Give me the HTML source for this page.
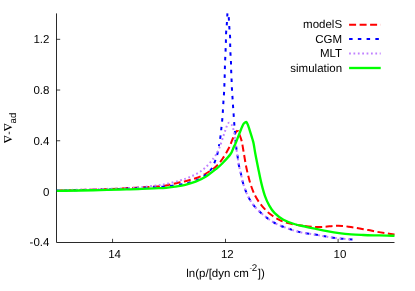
<!DOCTYPE html>
<html><head><meta charset="utf-8"><title>plot</title>
<style>
html,body{margin:0;padding:0;background:#fff;}
body{width:415px;height:291px;overflow:hidden;position:relative;font-family:"Liberation Sans",sans-serif;}
</style></head><body>
<svg width="415" height="291" viewBox="0 0 415 291" style="position:absolute;left:0;top:0;will-change:transform">
<rect width="415" height="291" fill="#fff"/>
<path d="M56.5,13.4 V242.5 H394.5" fill="none" stroke="#2a2a2a" stroke-width="1"/>
<path d="M56.5,39.32 h3.7 M56.5,90.04 h3.7 M56.5,140.76 h3.7 M56.5,191.48 h3.7 M112.55,242.5 v-3.7 M225.50,242.5 v-3.7 M338.10,242.5 v-3.7 " fill="none" stroke="#000" stroke-width="1" stroke-opacity="0.75"/>
<g font-family="Liberation Sans, sans-serif" font-size="11.5px" fill="#000" text-rendering="geometricPrecision">
<text x="49.4" y="43.4" text-anchor="end">1.2</text>
<text x="49.4" y="94.1" text-anchor="end">0.8</text>
<text x="49.4" y="144.9" text-anchor="end">0.4</text>
<text x="49.4" y="195.6" text-anchor="end">0</text>
<text x="49.4" y="246.3" text-anchor="end">-0.4</text>
<text x="114.6" y="258" text-anchor="middle">14</text>
<text x="227.3" y="258" text-anchor="middle">12</text>
<text x="340.0" y="258" text-anchor="middle">10</text>
<text x="342.1" y="28" text-anchor="end">modelS</text>
<text x="342.1" y="43" text-anchor="end">CGM</text>
<text x="342.1" y="57" text-anchor="end">MLT</text>
<text x="342.1" y="72" text-anchor="end">simulation</text>
<text x="186.3" y="276.7">ln(p/[dyn cm</text>
<text x="249.5" y="270.7" font-size="9.8px" fill-opacity="0.55" textLength="2.6" lengthAdjust="spacingAndGlyphs">-</text>
<text x="251.7" y="270.7" font-size="9.8px">2</text>
<text x="257.7" y="276.7">]</text>
<text x="261.0" y="276.7">)</text>
<g transform="translate(11.5,143) rotate(-90)"><path d="M0.1,-7.4 H7.5 L3.8,0.8 Z M1.75,-6.82 H6.62 L4.2,-1.45 Z" fill="#000" fill-rule="evenodd"/><text x="8.2" y="0" font-size="10.5px">-</text><path transform="translate(12.0,0)" d="M0.1,-7.4 H7.5 L3.8,0.8 Z M1.75,-6.82 H6.62 L4.2,-1.45 Z" fill="#000" fill-rule="evenodd"/><text x="19.6" y="4.9" font-size="9.5px">ad</text></g>
</g>
<clipPath id="c"><rect x="56.5" y="12.9" width="339.0" height="230.1"/></clipPath>
<g fill="none" stroke-width="2" clip-path="url(#c)" stroke-linejoin="round">
<path d="M56.50,190.50 C71.00,190.13 87.75,189.82 100.00,189.40 C112.25,188.98 120.98,188.47 130.00,188.00 C139.02,187.53 148.08,187.03 154.10,186.60 C160.12,186.17 162.62,185.92 166.10,185.40 C169.58,184.88 172.65,184.02 175.00,183.50 C177.35,182.98 178.48,182.68 180.20,182.30 C181.92,181.92 183.58,181.62 185.30,181.20 C187.02,180.78 188.78,180.28 190.50,179.80 C192.22,179.32 193.88,178.90 195.60,178.30 C197.32,177.70 199.07,177.00 200.80,176.20 C202.53,175.40 204.28,174.48 206.00,173.50 C207.72,172.52 209.38,171.52 211.10,170.30 C212.82,169.08 214.45,168.03 216.30,166.20 C218.15,164.37 220.10,162.33 222.20,159.30 C224.30,156.27 227.27,151.13 228.90,148.00 C230.53,144.87 230.92,143.00 232.00,140.50 C233.08,138.00 234.47,134.70 235.40,133.00 C236.33,131.30 236.87,131.20 237.60,130.30" stroke="#ff0000" stroke-dasharray="7,3.5" stroke-dashoffset="-2"/>
<path d="M237.60,130.30 C238.40,132.20 239.28,134.05 240.00,136.00 C240.72,137.95 241.27,139.17 241.90,142.00 C242.53,144.83 243.03,148.63 243.80,153.00 C244.57,157.37 245.42,163.13 246.50,168.20 C247.58,173.27 248.85,178.80 250.30,183.40 C251.75,188.00 253.30,192.10 255.20,195.80 C257.10,199.50 259.17,202.52 261.70,205.60 C264.23,208.68 267.15,211.77 270.40,214.30 C273.65,216.83 277.60,219.18 281.20,220.80 C284.80,222.42 288.38,223.17 292.00,224.00 C295.62,224.83 299.07,225.30 302.90,225.80" stroke="#ff0000" stroke-dasharray="7,3.5" stroke-dashoffset="5.7"/>
<path d="M394.50,234.40 C391.57,234.00 388.62,233.63 385.70,233.20 C382.78,232.77 379.88,232.32 377.00,231.80 C374.12,231.28 371.28,230.65 368.40,230.10 C365.52,229.55 362.60,229.00 359.70,228.50 C356.80,228.00 353.90,227.53 351.00,227.10 C348.10,226.67 345.18,226.10 342.30,225.90 C339.42,225.70 336.58,225.75 333.70,225.90 C330.82,226.05 328.12,226.62 325.00,226.80 C321.88,226.98 318.68,227.17 315.00,227.00 C311.32,226.83 306.73,226.30 302.90,225.80" stroke="#ff0000" stroke-dasharray="7,3.5" stroke-dashoffset="0.3"/>
<path d="M56.50,190.60 C71.00,190.30 87.75,190.05 100.00,189.70 C112.25,189.35 120.98,188.92 130.00,188.50 C139.02,188.08 148.08,187.57 154.10,187.20 C160.12,186.83 161.78,186.73 166.10,186.30 C170.42,185.87 176.28,185.17 180.00,184.60 C183.72,184.03 185.58,183.65 188.40,182.90 C191.22,182.15 194.08,181.35 196.90,180.10 C199.72,178.85 203.05,177.03 205.30,175.40 C207.55,173.77 209.00,172.13 210.40,170.30 C211.80,168.47 212.58,166.93 213.70,164.40 C214.82,161.87 216.20,158.33 217.10,155.10 C218.00,151.87 218.53,148.15 219.10,145.00" stroke="#0000ff" stroke-dasharray="3.5,5.25"/>
<path d="M227.45,13.40 C227.40,14.10 227.41,13.68 227.30,15.50 C227.19,17.32 227.00,21.37 226.80,24.30 C226.60,27.23 226.25,30.27 226.10,33.10 C225.95,35.93 225.98,38.47 225.90,41.30 C225.82,44.13 225.72,47.17 225.60,50.10 C225.48,53.03 225.32,56.02 225.20,58.90 C225.08,61.78 224.98,64.57 224.90,67.40 C224.82,70.23 224.78,73.02 224.70,75.90 C224.62,78.78 224.52,81.77 224.40,84.70 C224.28,87.63 224.17,90.60 224.00,93.50 C223.83,96.40 223.58,99.23 223.40,102.10 C223.22,104.97 223.08,107.86 222.90,110.70 C222.72,113.54 222.55,116.28 222.30,119.15 C222.05,122.03 221.70,125.11 221.40,127.95 C221.10,130.79 220.88,133.36 220.50,136.20 C220.12,139.04 219.67,141.85 219.10,145.00" stroke="#0000ff" stroke-dasharray="3.5,5.25" stroke-dashoffset="0.2"/>
<path d="M228.40,13.40 C228.57,15.45 228.73,17.06 228.90,19.55 C229.07,22.04 229.20,25.43 229.40,28.35 C229.60,31.28 229.97,34.21 230.10,37.10 C230.23,39.99 230.13,42.86 230.20,45.70 C230.27,48.54 230.37,51.27 230.50,54.15 C230.63,57.02 230.88,60.06 231.00,62.95 C231.12,65.84 231.10,68.61 231.20,71.50 C231.30,74.39 231.47,77.37 231.60,80.30 C231.72,83.23 231.80,86.23 231.95,89.10 C232.10,91.97 232.32,94.63 232.50,97.50 C232.68,100.37 232.86,103.42 233.05,106.30 C233.24,109.17 233.45,111.88 233.65,114.75 C233.85,117.62 234.03,120.62 234.25,123.55 C234.47,126.48 234.79,129.51 235.00,132.35 C235.21,135.19 235.35,138.49 235.50,140.60 C235.65,142.71 235.53,142.24 235.90,145.00" stroke="#0000ff" stroke-dasharray="3.5,5.25" stroke-dashoffset="4.85"/>
<path d="M235.90,145.00 C236.27,147.76 237.18,153.66 237.70,157.15 C238.22,160.64 238.45,163.14 239.00,165.95 C239.55,168.76 240.35,171.22 241.00,174.00 C241.65,176.78 242.10,179.73 242.90,182.60 C243.70,185.47 244.73,188.52 245.80,191.20 C246.87,193.88 247.89,196.22 249.30,198.70 C250.71,201.17 251.82,203.27 254.25,206.05 C256.68,208.83 260.49,212.58 263.90,215.40 C267.31,218.22 270.73,220.83 274.70,223.00 C278.67,225.17 283.37,226.85 287.70,228.40 C292.03,229.95 296.15,231.27 300.70,232.30 C305.25,233.33 310.62,233.87 315.00,234.60 C319.38,235.33 322.98,236.07 327.00,236.70 C331.02,237.33 334.77,237.93 339.10,238.40 C343.43,238.87 348.37,239.13 353.00,239.50" stroke="#0000ff" stroke-dasharray="3.5,5.25" stroke-dashoffset="7.4"/>
<path d="M56.50,190.30 C71.00,189.90 87.75,189.48 100.00,189.10 C112.25,188.72 120.98,188.55 130.00,188.00 C139.02,187.45 148.08,186.47 154.10,185.80 C160.12,185.13 161.78,184.88 166.10,184.00 C170.42,183.12 176.28,181.57 180.00,180.50 C183.72,179.43 185.58,178.73 188.40,177.60 C191.22,176.47 194.08,175.35 196.90,173.70 C199.72,172.05 202.50,170.32 205.30,167.70 C208.10,165.08 211.45,161.08 213.70,158.00 C215.95,154.92 217.15,152.97 218.80,149.20 C220.45,145.43 222.30,139.17 223.60,135.40 C224.90,131.63 225.75,128.70 226.60,126.60 C227.45,124.50 227.88,123.15 228.70,122.80 C229.52,122.45 230.65,123.13 231.50,124.50 C232.35,125.87 233.10,127.70 233.80,131.00 C234.50,134.30 235.05,139.94 235.70,144.30 C236.35,148.66 237.15,153.54 237.70,157.15 C238.25,160.76 238.45,163.14 239.00,165.95 C239.55,168.76 240.35,171.22 241.00,174.00 C241.65,176.78 242.10,179.73 242.90,182.60 C243.70,185.47 244.73,188.52 245.80,191.20 C246.87,193.88 247.89,196.22 249.30,198.70 C250.71,201.17 251.82,203.27 254.25,206.05 C256.68,208.83 260.49,212.58 263.90,215.40 C267.31,218.22 270.73,220.83 274.70,223.00 C278.67,225.17 283.37,226.85 287.70,228.40 C292.03,229.95 296.15,231.27 300.70,232.30 C305.25,233.33 310.62,233.87 315.00,234.60 C319.38,235.33 322.98,236.07 327.00,236.70 C331.02,237.33 334.77,237.93 339.10,238.40 C343.43,238.87 348.37,239.13 353.00,239.50" stroke="#c080ff" stroke-dasharray="1.75,2.625" stroke-dashoffset="-1.8"/>
<path d="M56.50,190.90 C64.33,190.77 72.75,190.63 80.00,190.50 C87.25,190.37 93.33,190.27 100.00,190.10 C106.67,189.93 115.00,189.63 120.00,189.50 C125.00,189.37 126.33,189.40 130.00,189.30 C133.67,189.20 137.98,189.07 142.00,188.90 C146.02,188.73 150.08,188.48 154.10,188.30 C158.12,188.12 162.62,188.08 166.10,187.80 C169.58,187.52 171.80,187.10 175.00,186.60 C178.20,186.10 181.87,185.62 185.30,184.80 C188.73,183.98 192.15,183.08 195.60,181.70 C199.05,180.32 202.55,178.65 206.00,176.50 C209.45,174.35 213.60,170.97 216.30,168.80 C219.00,166.63 219.85,165.92 222.20,163.50 C224.55,161.08 228.48,157.02 230.40,154.30 C232.32,151.58 232.88,148.93 233.70,147.20 C234.52,145.47 234.67,145.50 235.35,143.90 C236.03,142.30 236.98,139.71 237.80,137.60 C238.62,135.49 239.60,133.02 240.30,131.25 C241.00,129.48 241.43,128.28 242.00,127.00 C242.57,125.72 243.15,124.38 243.70,123.60 C244.25,122.82 244.85,122.57 245.30,122.30 C245.75,122.03 246.10,121.85 246.40,122.00 C246.70,122.15 246.83,122.67 247.10,123.20 C247.37,123.73 247.48,123.77 248.00,125.20 C248.52,126.63 249.47,129.50 250.20,131.80 C250.93,134.10 251.82,136.98 252.40,139.00 C252.98,141.02 253.23,141.57 253.70,143.90 C254.17,146.23 254.45,148.95 255.20,153.00 C255.95,157.05 257.17,163.13 258.20,168.20 C259.23,173.27 260.28,178.80 261.40,183.40 C262.52,188.00 263.58,192.10 264.90,195.80 C266.22,199.50 267.67,202.70 269.30,205.60 C270.93,208.50 272.35,210.85 274.70,213.20 C277.05,215.55 280.15,217.90 283.40,219.70 C286.65,221.50 290.58,222.85 294.20,224.00 C297.82,225.15 301.63,225.82 305.10,226.60 C308.57,227.38 311.35,227.95 315.00,228.70 C318.65,229.45 322.98,230.37 327.00,231.10 C331.02,231.83 335.08,232.55 339.10,233.10 C343.12,233.65 347.08,234.08 351.10,234.40 C355.12,234.72 359.18,234.84 363.20,235.00 C367.22,235.16 371.18,235.25 375.20,235.35 C379.22,235.45 384.08,235.53 387.30,235.60 C390.52,235.67 392.10,235.70 394.50,235.75" stroke="#00ff00" stroke-width="2.35"/>
</g>
<g fill="none" stroke-width="2">
<path d="M349.1,24.8 H380.7" stroke="#ff0000" stroke-dasharray="7,3.5"/>
<path d="M349.1,39.1 H380.7" stroke="#0000ff" stroke-dasharray="3.5,5.25"/>
<path d="M349.1,53.6 H380.7" stroke="#c080ff" stroke-dasharray="1.75,2.625"/>
<path d="M349.1,68.0 H380.7" stroke="#00ff00" stroke-width="2.35"/>
</g>
</svg>
</body></html>
